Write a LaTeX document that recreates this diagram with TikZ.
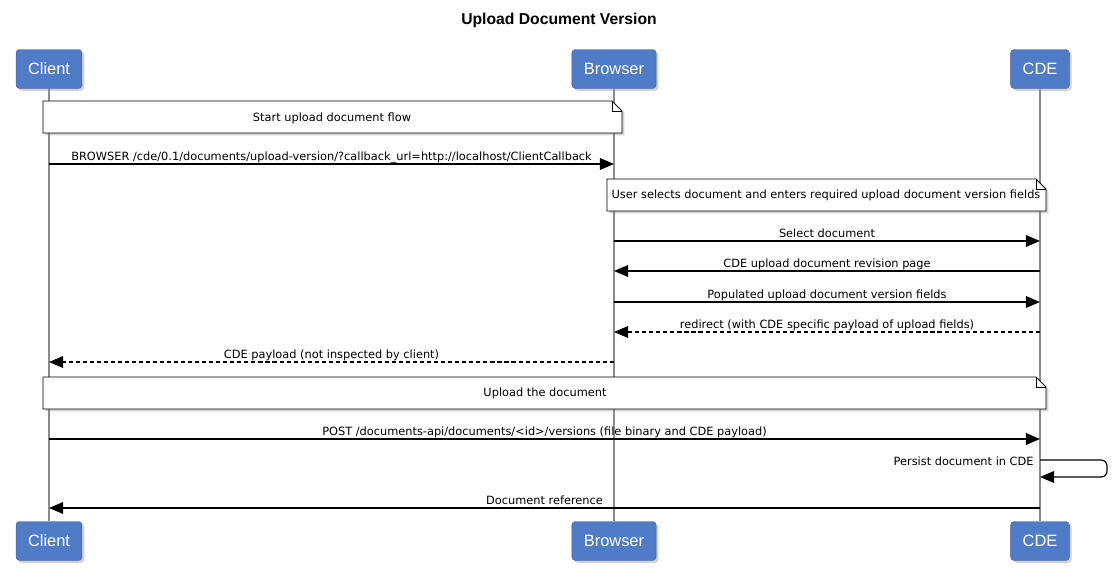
\documentclass[tikz,border=0pt]{standalone}
\usepackage{fontspec}
\setmainfont{Liberation Sans}
\newfontfamily\msgfont{DejaVu Sans}
\usepackage{xcolor}
\usetikzlibrary{arrows.meta,shadows,positioning}

\definecolor{actorblue}{RGB}{80,123,199}
\definecolor{lifegray}{RGB}{140,140,140}

\tikzset{
  actor/.style={draw=actorblue!80!black, fill=actorblue, rounded corners=3pt, text=white,
    font=\fontsize{14}{16}\selectfont, inner xsep=0.36cm, minimum height=1.17cm,
    drop shadow={shadow xshift=2pt, shadow yshift=-2pt, opacity=0.35}},
  life/.style={lifegray, line width=1pt},
  msg/.style={black, line width=1pt, -{Triangle[length=12pt,width=10pt]}},
  reply/.style={msg, dash pattern=on 3.5pt off 2.5pt},
  lbl/.style={black, font=\msgfont\fontsize{9.7}{11}\selectfont, inner sep=1pt,
    text height=0.76em, text depth=0.24em},
  note/.style={draw=black, fill=white, line width=0.8pt,
    drop shadow={shadow xshift=2pt, shadow yshift=-2pt, opacity=0.35}},
  titletext/.style={black, font=\bfseries\fontsize{13.4}{15}\selectfont}
}

\begin{document}
\begin{tikzpicture}[x=0.03cm, y=-0.03cm]
\useasboundingbox [fill=white] (0,0) rectangle (1117,584);

\node [titletext] (title) at (559,20) {Upload Document Version};

% participants, top and bottom
\node [actor] (client) at (49,69) {Client};
\node [actor] (browser) at (614,69) {Browser};
\node [actor] (cde) at (1040,69) {CDE};
\node [actor] (clientB) at (49,541) {Client};
\node [actor] (browserB) at (614,541) {Browser};
\node [actor] (cdeB) at (1040,541) {CDE};

\draw [life] (client) -- (clientB);
\draw [life] (browser) -- (browserB);
\draw [life] (cde) -- (cdeB);

% note 1
\draw [note] (43,101) -- (612,101) -- (622,111) -- (622,133) -- (43,133) -- cycle;
\draw [black, line width=0.6pt] (612,101) -- (612,111) -- (622,111);
\node [lbl] (n1) at (332,118) {Start upload document flow};

\coordinate (m1a) at (49,164);
\coordinate (m1b) at (614,164);
\draw [msg] (m1a) -- node[lbl, above=-1pt] {BROWSER /cde/0.1/documents/upload-version/?callback\_url=http://localhost/ClientCallback} (m1b);

% note 2
\draw [note] (607,179) -- (1036,179) -- (1046,189) -- (1046,211) -- (607,211) -- cycle;
\draw [black, line width=0.6pt] (1036,179) -- (1036,189) -- (1046,189);
\node [lbl] (n2) at (826,195) {User selects document and enters required upload document version fields};

\coordinate (m2a) at (614,241);
\coordinate (m2b) at (1040,241);
\draw [msg] (m2a) -- node[lbl, above=-1pt] {Select document} (m2b);

\coordinate (m3a) at (1040,271);
\coordinate (m3b) at (614,271);
\draw [msg] (m3a) -- node[lbl, above=-1pt] {CDE upload document revision page} (m3b);

\coordinate (m4a) at (614,302);
\coordinate (m4b) at (1040,302);
\draw [msg] (m4a) -- node[lbl, above=-1pt] {Populated upload document version fields} (m4b);

\coordinate (m5a) at (1040,332);
\coordinate (m5b) at (614,332);
\draw [reply] (m5a) -- node[lbl, above=-1pt] {redirect (with CDE specific payload of upload fields)} (m5b);

\coordinate (m6a) at (614,362);
\coordinate (m6b) at (49,362);
\draw [reply] (m6a) -- node[lbl, above=-1pt] {CDE payload (not inspected by client)} (m6b);

% note 3
\draw [note] (43,377) -- (1036,377) -- (1046,387) -- (1046,409) -- (43,409) -- cycle;
\draw [black, line width=0.6pt] (1036,377) -- (1036,387) -- (1046,387);
\node [lbl] (n3) at (545,393) {Upload the document};

\coordinate (m7a) at (49,439);
\coordinate (m7b) at (1040,439);
\draw [msg] (m7a) -- node[lbl, above=-1pt] {POST /documents-api/documents/<id>/versions (file binary and CDE payload)} (m7b);

% self message
\coordinate (s1) at (1040,460);
\coordinate (s2) at (1040,477);
\draw [msg, rounded corners=5pt] (s1) -- ++(67,0) -- ++(0,17) -- (s2);
\node [lbl, anchor=east] (s1lbl) at (1035,462) {Persist document in CDE};

\coordinate (m8a) at (1040,508);
\coordinate (m8b) at (49,508);
\draw [msg] (m8a) -- node[lbl, above=-1pt] {Document reference} (m8b);

\end{tikzpicture}
\end{document}
